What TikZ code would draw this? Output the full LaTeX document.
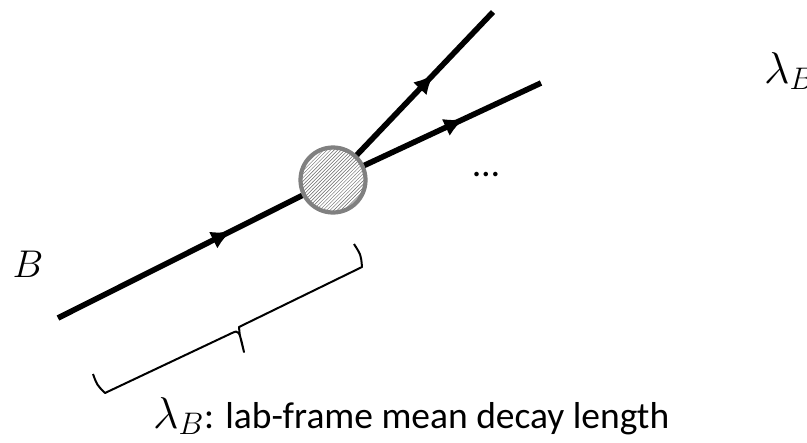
\documentclass[tikz,border=0pt]{standalone}
\usepackage{fix-cm}
\usepackage{fontspec}
\setmainfont{Carlito}
\usetikzlibrary{arrows.meta,decorations.markings,patterns}

\newcommand{\bigmath}[1]{{\fontsize{38}{44}\selectfont$#1$}}

\tikzset{
  particle/.style={line width=4.8pt, postaction={decorate},
    decoration={markings, mark=at position 0.63 with {\arrow{Latex[length=0.6cm,width=0.56cm]}}}},
  blob/.style={circle, draw=gray, line width=3.6pt, minimum size=1.95cm, inner sep=0pt,
    preaction={fill=white}, pattern=north east lines, pattern color=gray!80!black},
  lbl/.style={font=\fontsize{32}{38}\selectfont, inner sep=0pt},
  bracket/.style={line width=1.7pt, line join=round},
}

\begin{document}
\begin{tikzpicture}[x=0.03cm,y=-0.03cm]

\clip (0,0) rectangle (807,442);

% Vertex and end points
\coordinate (vtx) at (333,180);
\coordinate (bin) at (58,318);
\coordinate (out1) at (493,12);
\coordinate (out2) at (541,83);

% Lines
\draw[particle] (bin) -- (vtx);
\draw[particle] (vtx) -- (out1);
\draw[particle] (vtx) -- (out2);

% Decay blob
\node[blob] (blob) at (vtx) {};

% Labels
\node[lbl, anchor=base] (bname) at (28,277) {{\fontsize{33}{38}\selectfont$B$}};
\node[lbl, anchor=base] (dots) at (486,176) {…};
\node[lbl, anchor=base west] (lamtop) at (764,83) {\bigmath{\lambda_B}};
\node[lbl, anchor=base west] (caption) at (153,428) {\bigmath{\lambda_B}: lab-frame mean decay length};

% Brace under the B line
\draw[bracket] (93,374) .. controls (97,385) .. (105,393) -- (232,333)
  .. controls (239,330) .. (244,352) .. controls (239,332) .. (239,327)
  -- (362,267) .. controls (361,255) .. (354,244);

\end{tikzpicture}
\end{document}
